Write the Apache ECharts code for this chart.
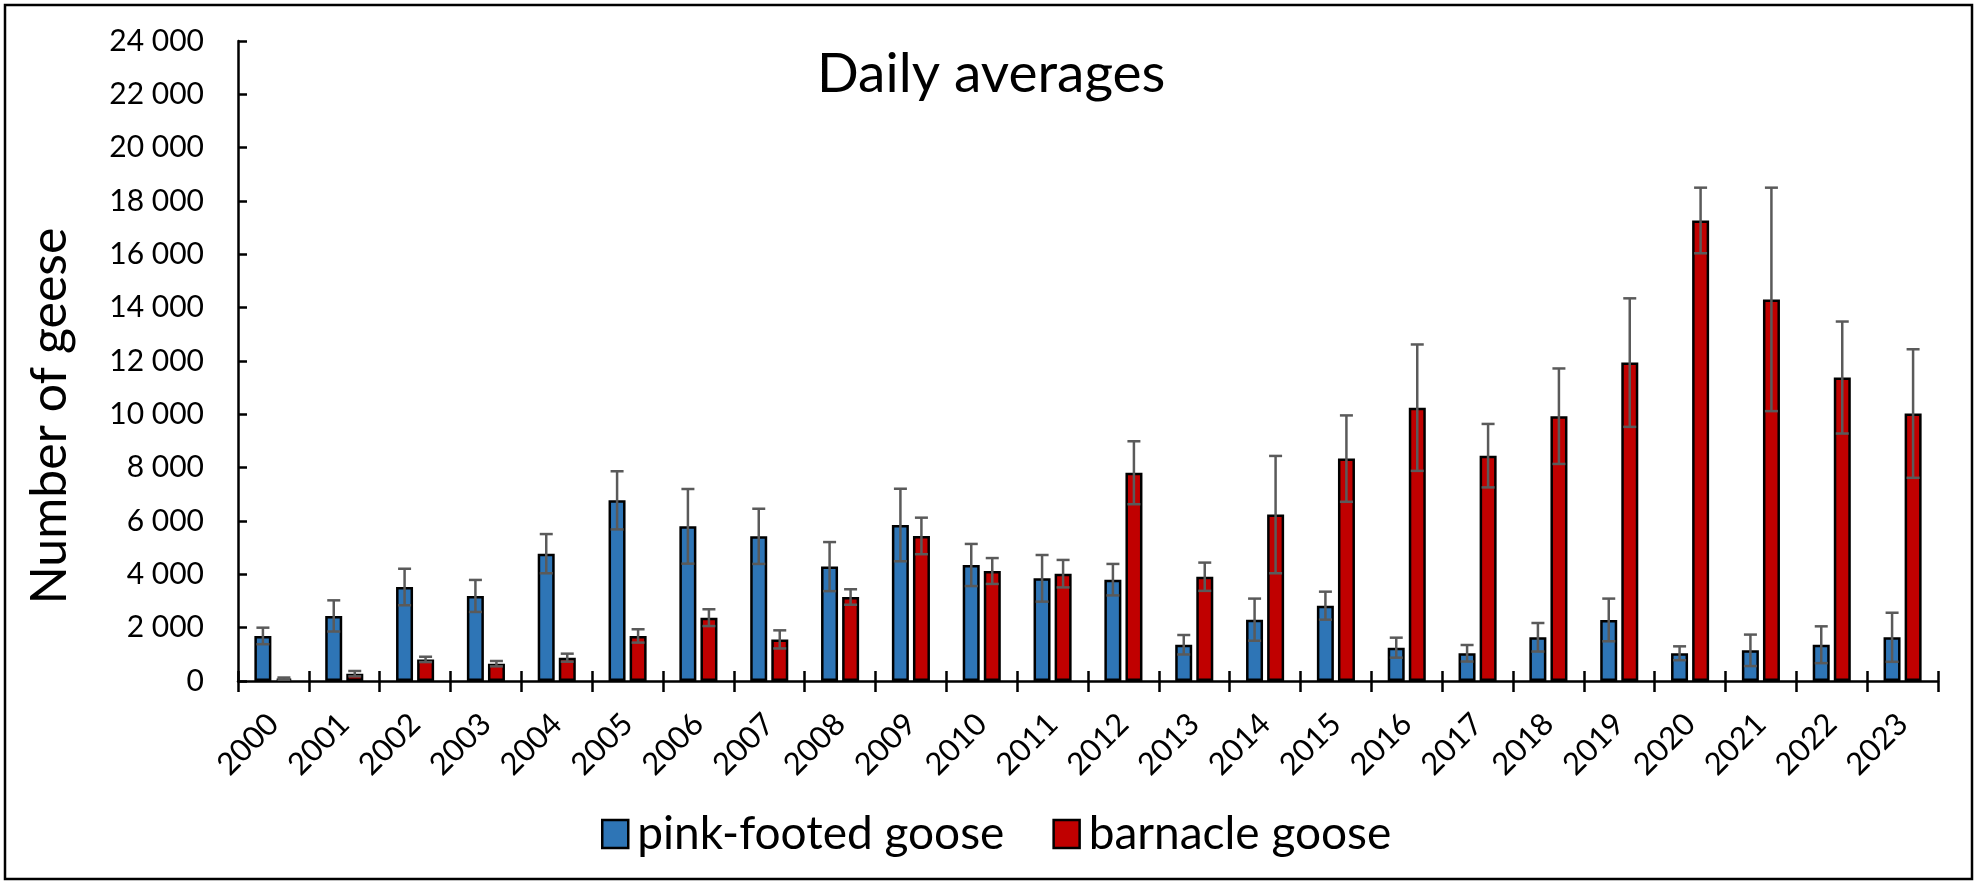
<!DOCTYPE html>
<html>
<head>
<meta charset="utf-8">
<title>Daily averages</title>
<script src="https://cdn.jsdelivr.net/npm/echarts@6/dist/echarts.min.js"></script>
<style>
	html, body { margin: 0; padding: 0; background: #ffffff; }
	#myChart { width: 1977px; height: 881px; }
</style>
</head>
<body>
<div id="myChart"></div>
<script>
	var years = ['2000', '2001', '2002', '2003', '2004', '2005', '2006', '2007', '2008', '2009', '2010', '2011',
		'2012', '2013', '2014', '2015', '2016', '2017', '2018', '2019', '2020', '2021', '2022', '2023'];
	var pinkFooted = [1690, 2440, 3525, 3190, 4775, 6775, 5800, 5425, 4290, 5850, 4350, 3850,
		3800, 1360, 2300, 2825, 1250, 1040, 1640, 2290, 1040, 1150, 1360, 1640];
	var pinkFootedErr = [310, 585, 685, 600, 735, 1090, 1400, 1035, 920, 1360, 790, 875,
		590, 365, 790, 525, 375, 310, 535, 800, 260, 590, 690, 920];
	var barnacle = [90, 275, 810, 650, 875, 1690, 2375, 1560, 3150, 5440, 4125, 4025,
		7810, 3910, 6240, 8340, 10250, 8450, 9930, 11940, 17270, 14310, 11380, 10030];
	var barnacleErr = [40, 100, 100, 100, 150, 250, 315, 340, 290, 685, 485, 515,
		1180, 530, 2200, 1620, 2370, 1190, 1790, 2410, 1230, 4190, 2100, 2410];
	var yTicks = { min: 0, max: 24000, interval: 2000 };

	var font = 'Lato, "Open Sans", sans-serif';
	var barW = 17;
	var shift = 10.5; // half of (bar + gap), px

	function spaced(v) {
		return String(v).replace(/\B(?=(\d{3})+(?!\d))/g, ' ');
	}

	function errRows(vals, errs) {
		var rows = [];
		for (var i = 0; i < vals.length; i++) {
			rows.push([i, vals[i] - errs[i], vals[i] + errs[i]]);
		}
		return rows;
	}

	function errorBars(rows, dx) {
		return {
			type: 'custom',
			z: 5,
			silent: true,
			data: rows,
			encode: { x: 0, y: [1, 2] },
			renderItem: function (params, api) {
				var lo = api.coord([api.value(0), api.value(1)]);
				var hi = api.coord([api.value(0), api.value(2)]);
				var x = lo[0] + dx;
				var cap = 6.5;
				var st = { stroke: '#5a5a5a', lineWidth: 2.5 };
				return {
					type: 'group',
					children: [
						{ type: 'line', shape: { x1: x, y1: hi[1], x2: x, y2: lo[1] }, style: st },
						{ type: 'line', shape: { x1: x - cap, y1: hi[1], x2: x + cap, y2: hi[1] }, style: st },
						{ type: 'line', shape: { x1: x - cap, y1: lo[1], x2: x + cap, y2: lo[1] }, style: st }
					]
				};
			}
		};
	}

	var myChart = echarts.init(document.getElementById('myChart'));
	myChart.setOption({
		animation: false,
		backgroundColor: '#ffffff',
		title: {
			text: 'Daily averages',
			left: 812,
			top: 42,
			textStyle: { fontFamily: font, fontSize: 55, fontWeight: 'normal', color: '#000' }
		},
		legend: {
			data: ['pink-footed goose', 'barnacle goose'],
			left: 596,
			top: 806,
			icon: 'rect',
			itemWidth: 26,
			itemHeight: 28,
			itemGap: 48,
			itemStyle: { borderColor: '#000', borderWidth: 2.5 },
			textStyle: { fontFamily: font, fontSize: 46, color: '#000', padding: [0, 0, 0, 4] }
		},
		grid: { left: 238, right: 39, top: 41, bottom: 200 },
		xAxis: [{
			type: 'category',
			data: years,
			position: 'bottom',
			axisLine: { lineStyle: { color: '#000', width: 2.5 } },
			axisTick: { show: true, length: 11, lineStyle: { color: '#000', width: 2.5 } },
			axisLabel: {
				interval: 0,
				rotate: 45,
				margin: 38,
				color: '#000',
				fontFamily: font,
				fontSize: 31
			}
		}, {
			type: 'category',
			data: years,
			position: 'bottom',
			axisLine: { show: false },
			axisTick: { show: true, inside: true, length: 10, lineStyle: { color: '#000', width: 2.5 } },
			axisLabel: { show: false }
		}],
		yAxis: {
			type: 'value',
			min: yTicks.min,
			max: yTicks.max,
			interval: yTicks.interval,
			axisLine: { show: true, lineStyle: { color: '#000', width: 2.5 } },
			axisTick: { show: true, inside: true, length: 9, lineStyle: { color: '#000', width: 2.5 } },
			splitLine: { show: false },
			axisLabel: {
				margin: 34,
				color: '#000',
				fontFamily: font,
				fontSize: 30,
				formatter: spaced
			}
		},
		graphic: [{
			type: 'text',
			x: 50,
			y: 416,
			rotation: Math.PI / 2,
			style: {
				text: 'Number of geese',
				fontFamily: font,
				fontSize: 50,
				fill: '#000',
				align: 'center',
				verticalAlign: 'middle'
			}
		}, {
			type: 'rect',
			shape: { x: 5, y: 5, width: 1967, height: 874 },
			style: { fill: null, stroke: '#000', lineWidth: 2.5 },
			silent: true
		}],
		series: [{
			name: 'pink-footed goose',
			type: 'bar',
			data: pinkFooted,
			barWidth: barW,
			barGap: '24%',
			itemStyle: { color: '#2e75b6', borderColor: '#000', borderWidth: 2.5 }
		}, {
			name: 'barnacle goose',
			type: 'bar',
			data: barnacle,
			barWidth: barW,
			itemStyle: { color: '#c00000', borderColor: '#000', borderWidth: 2.5 }
		},
		errorBars(errRows(pinkFooted, pinkFootedErr), -shift),
		errorBars(errRows(barnacle, barnacleErr), shift)]
	});
</script>
</body>
</html>
